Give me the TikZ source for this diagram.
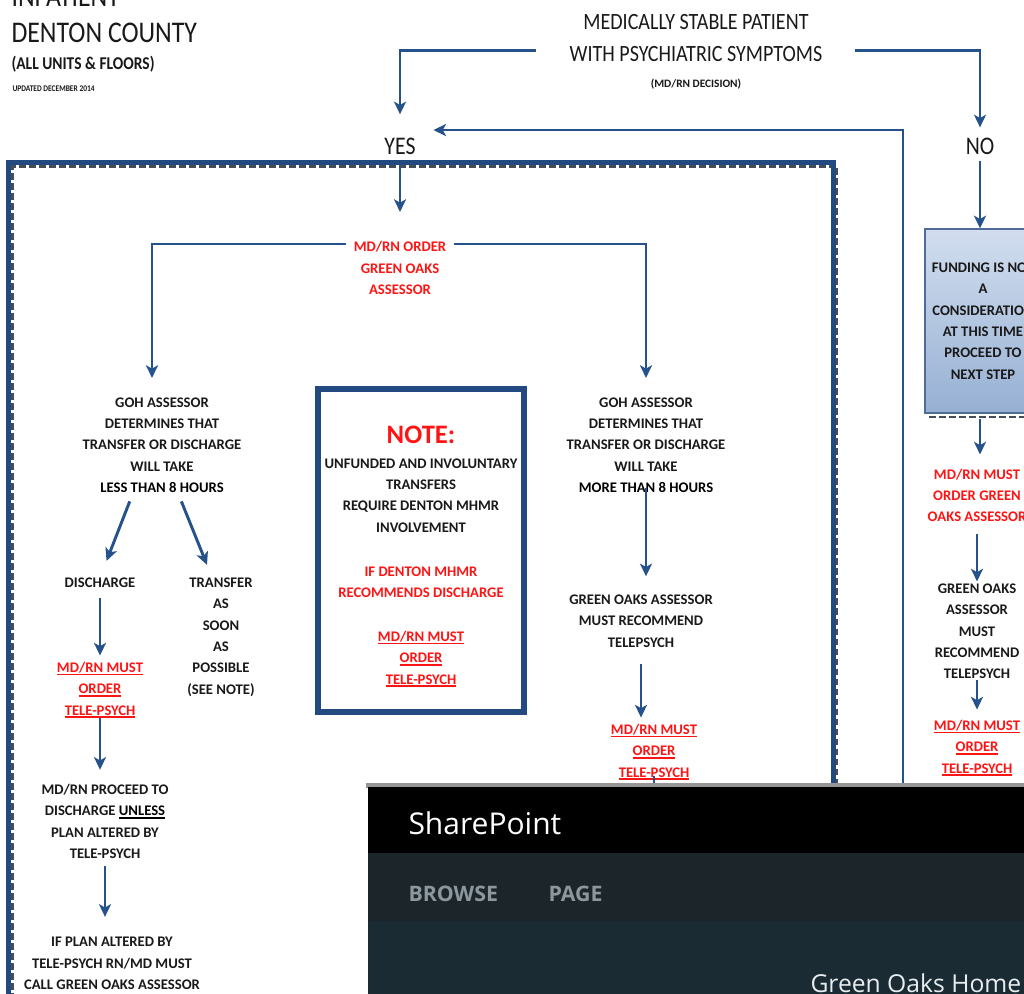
\documentclass[tikz,border=0pt]{standalone}
\usepackage{fontspec}
\setmainfont{Carlito}
\newfontfamily\headfont{Carlito}[FakeStretch=0.86]
\newfontfamily\spfont{Open Sans}
\usetikzlibrary{arrows.meta}

\definecolor{flowblue}{RGB}{38,82,140}
\definecolor{frameblue}{RGB}{34,74,128}
\definecolor{shadowgray}{RGB}{70,78,92}
\definecolor{alertred}{RGB}{255,20,20}
\definecolor{inkblack}{RGB}{25,25,25}
\definecolor{boxedge}{RGB}{80,108,150}
\definecolor{boxtop}{RGB}{210,222,239}
\definecolor{boxbottom}{RGB}{150,176,211}
\definecolor{spshade}{RGB}{150,150,150}
\definecolor{spmid}{RGB}{28,37,42}
\definecolor{splow}{RGB}{27,43,52}
\definecolor{spgray}{RGB}{140,152,158}
\definecolor{sphome}{RGB}{232,238,240}

\newlength{\ulwidth}
\newcommand{\thickul}[1]{\settowidth{\ulwidth}{#1}\rlap{\rule[-2.2pt]{\ulwidth}{1.3pt}}#1}

\tikzset{every picture/.style={line width=0.75pt}}

\begin{document}
\begin{tikzpicture}[x=0.75pt,y=0.75pt,yscale=-1,xscale=1,
  flow/.style={font={\bfseries\fontsize{11}{16}\selectfont}, align=center, inner sep=0pt, text=inkblack},
  redflow/.style={flow, text=alertred},
  headtxt/.style={font={\headfont\fontsize{#1}{#1}\selectfont}, inner sep=0pt, text=inkblack},
  arr/.style={draw=flowblue, line width=2.2pt, -{Stealth[length=9.5pt,width=9pt,inset=2.5pt]}},
  shadowdash/.style={draw=shadowgray, line width=2.2pt, dash pattern=on 5pt off 2.5pt}]
\useasboundingbox (0,0) rectangle (1024,994);
\clip (0,0) rectangle (1024,994);

% Text Node
\node[headtxt=22.5, anchor=base west] (inpat) at (11,7) {INPATIENT};
% Text Node
\node[headtxt=22.5, anchor=base west] (county) at (11,43) {DENTON COUNTY};
% Text Node
\node[headtxt=13.5, anchor=base west] (units) at (11,70) {\bfseries (ALL UNITS \& FLOORS)};
% Text Node
\node[headtxt=6.5, anchor=base west] (updated) at (12,92) {\bfseries UPDATED DECEMBER 2014};

% Text Node
\node[headtxt=17.5, anchor=base] (title1) at (696,30) {MEDICALLY STABLE PATIENT};
% Text Node
\node[headtxt=17.5, anchor=base] (title2) at (696,62) {WITH PSYCHIATRIC SYMPTOMS};
% Text Node
\node[flow, font={\bfseries\fontsize{8.5}{10}\selectfont}, anchor=base] (decide) at (696,88) {(MD/RN DECISION)};
% Text Node
\node[headtxt=19, anchor=base] (yes) at (400,155) {YES};
% Text Node
\node[headtxt=19, anchor=base] (no) at (980,155) {NO};

%Shape: Frame (dashed shadow, then border)
\draw[shadowdash] (12.5,1000) -- (12.5,166.5) -- (837,166.5) -- (837,1000);
\draw[draw=frameblue, line width=3.75pt] (8.5,1000) -- (8.5,162.5) -- (833,162.5) -- (833,1000);

%Shape: Rectangle [note]
\node[draw=frameblue, line width=4.5pt, minimum width=154.5pt, minimum height=242.25pt, inner sep=0pt] (notebox) at (421,550.5) {};

%Shape: Rectangle [funding]
\draw[shadowdash] (929,417) -- (1030,417);
\node[draw=boxedge, line width=1pt, top color=boxtop, bottom color=boxbottom, minimum width=90pt, minimum height=138pt, inner sep=0pt] (fundbox) at (985,321) {};

% Text Node
\node[redflow] (order) at (400,268) {MD/RN ORDER\\GREEN OAKS\\ASSESSOR};
% Text Node
\node[flow] (lessgoh) at (162,445) {GOH ASSESSOR\\DETERMINES THAT\\TRANSFER OR DISCHARGE\\WILL TAKE\\\textcolor{black}{LESS THAN 8 HOURS}};
% Text Node
\node[flow] (moregoh) at (646,445) {GOH ASSESSOR\\DETERMINES THAT\\TRANSFER OR DISCHARGE\\WILL TAKE\\\textcolor{black}{MORE THAN 8 HOURS}};
% Text Node
\node[flow] (discharge) at (100,583) {DISCHARGE};
% Text Node
\node[flow] (transfer) at (221,637) {TRANSFER\\AS\\SOON\\AS\\POSSIBLE\\(SEE NOTE)};
% Text Node
\node[redflow] (teleL) at (100,690) {\thickul{MD/RN MUST}\\\thickul{ORDER}\\\thickul{TELE-PSYCH}};
% Text Node
\node[flow] (proceed) at (105,821.5) {MD/RN PROCEED TO\\DISCHARGE \textcolor{black}{\thickul{UNLESS}}\\PLAN ALTERED BY\\TELE-PSYCH};
% Text Node
\node[flow] (ifplan) at (112,963.5) {IF PLAN ALTERED BY\\TELE-PSYCH RN/MD MUST\\CALL GREEN OAKS ASSESSOR};

% Text Node
\node[redflow, font={\bfseries\fontsize{20}{20}\selectfont}] (notehead) at (421,435) {NOTE:};
% Text Node
\node[flow] (notebody) at (421,495.5) {UNFUNDED AND INVOLUNTARY\\TRANSFERS\\REQUIRE DENTON MHMR\\INVOLVEMENT};
% Text Node
\node[redflow] (notered) at (421,582.5) {IF DENTON MHMR\\RECOMMENDS DISCHARGE};
% Text Node
\node[redflow] (noteorder) at (421,659) {\thickul{MD/RN MUST}\\\thickul{ORDER}\\\thickul{TELE-PSYCH}};

% Text Node
\node[flow] (greenR) at (641,621) {GREEN OAKS ASSESSOR\\MUST RECOMMEND\\TELEPSYCH};
% Text Node
\node[redflow] (teleR) at (654,752) {\thickul{MD/RN MUST}\\\thickul{ORDER}\\\thickul{TELE-PSYCH}};

% Text Node
\node[flow] (fundtxt) at (983,321) {FUNDING IS NOT\\A\\CONSIDERATION\\AT THIS TIME\\PROCEED TO\\NEXT STEP};
% Text Node
\node[redflow] (orderR) at (977,495.5) {MD/RN MUST\\ORDER GREEN\\OAKS ASSESSOR};
% Text Node
\node[flow] (greenR2) at (977,631.5) {GREEN OAKS\\ASSESSOR\\MUST\\RECOMMEND\\TELEPSYCH};
% Text Node
\node[redflow] (teleR2) at (977,748) {\thickul{MD/RN MUST}\\\thickul{ORDER}\\\thickul{TELE-PSYCH}};

\coordinate (backfoot) at (903,800);
\coordinate (teleRfoot) at (654,830);

%Straight Lines [decision]
\draw[arr, shorten <=24.75pt, shorten >=17.8pt] ([yshift=-3pt]title2.west) -| (yes.north);
\draw[arr, shorten <=24pt, shorten >=8pt] ([yshift=-3pt]title2.east) -| (no.north);
\draw[arr, line width=2pt, shorten >=13pt] (backfoot) |- ([yshift=-6pt]yes.north east);

%Straight Lines [yes side]
\draw[arr, shorten <=7.5pt, shorten >=21.75pt] (yes.south) -- (order.north);
\draw[arr, shorten <=5.25pt, shorten >=14.25pt] ([yshift=2.25pt]order.north west) -| ([xshift=-7.5pt]lessgoh.north);
\draw[arr, shorten <=5.25pt, shorten >=14.25pt] ([yshift=2.25pt]order.north east) -| (moregoh.north);
\draw[arr, shorten <=6.75pt, shorten >=13.5pt] ([xshift=-21.75pt]lessgoh.south) -- (discharge.north);
\draw[arr, shorten <=6.75pt, shorten >=10pt] ([xshift=12pt]lessgoh.south) -- ([xshift=-6.75pt]transfer.north);
\draw[arr, shorten <=7.5pt, shorten >=4.5pt] (discharge.south) -- (teleL.north);
\draw[arr, shorten >=10.5pt] (teleL.south) -- (teleL.south |- proceed.north);
\draw[arr, shorten <=5.25pt, shorten >=15pt] (proceed.south) -- (proceed.south |- ifplan.north);
\draw[arr, shorten <=-3.75pt, shorten >=13.5pt] (moregoh.south) -- (moregoh.south |- greenR.north);
\draw[arr, shorten <=12pt, shorten >=4.5pt] (greenR.south) -- (greenR.south |- teleR.north);
\draw[arr, shorten <=-3pt] (teleR.south) -- (teleRfoot);

%Straight Lines [no side]
\draw[arr, shorten <=3.75pt] (no.south) -- (no.south |- fundbox.north);
\draw[arr, shorten <=3.75pt, shorten >=10.5pt] (no.south |- fundbox.south) -- (no.south |- orderR.north);
\draw[arr, shorten <=8.25pt, shorten >=1.5pt] (orderR.south) -- (orderR.south |- greenR2.north);
\draw[arr, shorten >=7.5pt] (greenR2.south) -- (greenR2.south |- teleR2.north);

%Shape: Rectangle [SharePoint window]
\fill[spshade] (366,783) rectangle (1024,788);
\fill[black] (368,787) rectangle (1024,853);
\fill[spmid] (368,853) rectangle (1024,921);
\fill[splow] (368,921) rectangle (1024,994);
% Text Node
\node[font={\spfont\fontsize{22.5}{24}\selectfont}, text=white, anchor=west, inner sep=0pt] (sharepoint) at (408,823) {SharePoint};
% Text Node
\node[font={\spfont\bfseries\fontsize{16}{18}\selectfont}, text=spgray, anchor=west, inner sep=0pt] (browse) at (408,894) {BROWSE};
% Text Node
\node[font={\spfont\bfseries\fontsize{16}{18}\selectfont}, text=spgray, anchor=west, inner sep=0pt] (pagetab) at (548,894) {PAGE};
% Text Node
\node[font={\spfont\fontsize{18.5}{20}\selectfont}, text=sphome, anchor=base west, inner sep=0pt] (ghome) at (810,992) {Green Oaks Home};

\end{tikzpicture}
\end{document}
